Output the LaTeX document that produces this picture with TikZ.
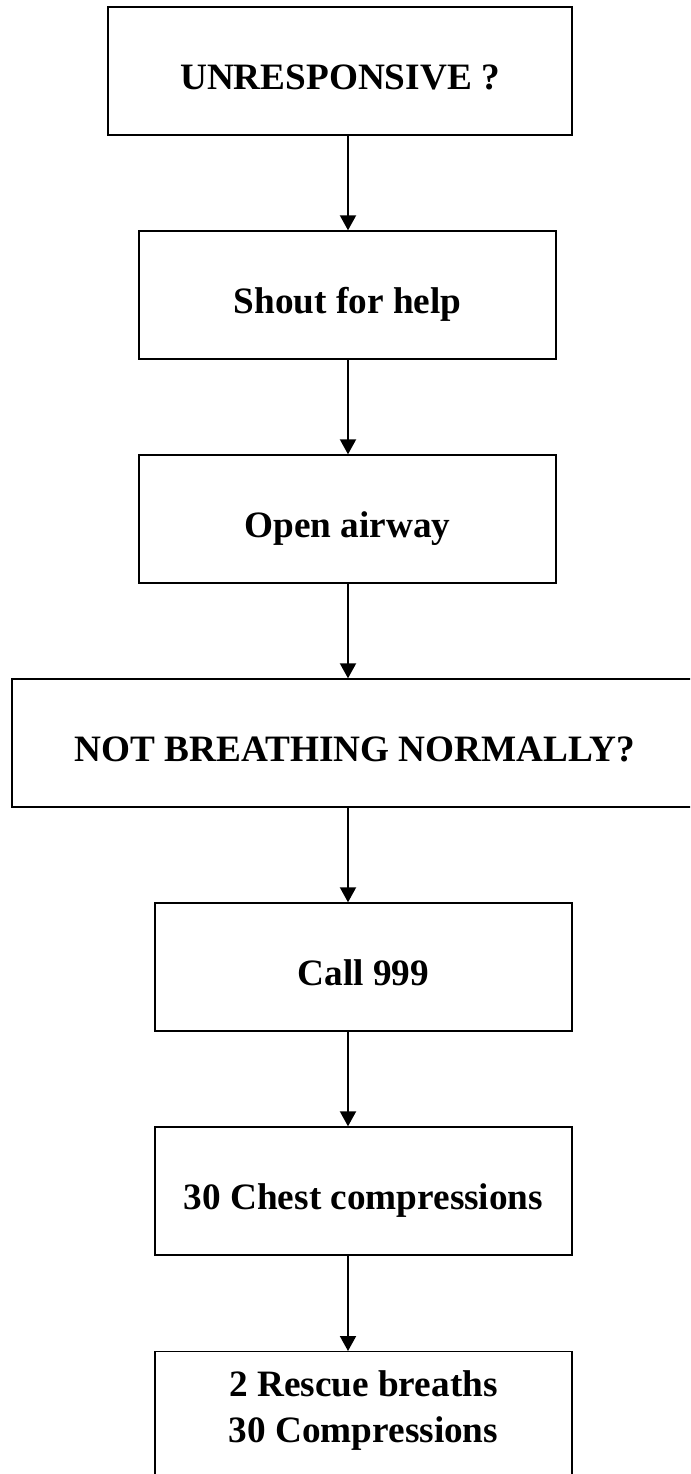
\documentclass[tikz,border=0pt]{standalone}
\usepackage{fontspec}
\setmainfont{Liberation Serif}
\usepackage{tikz}
\usetikzlibrary{positioning, arrows.meta}

\begin{document}
\begin{tikzpicture}[
  x=0.02cm, y=-0.02cm,
  every node/.style={font=\fontsize{21.2}{26.2}\selectfont\bfseries},
  blk/.style={draw, line width=0.8pt, minimum height=2.56cm, inner sep=0pt,
              text height=0.893cm, text depth=0.134cm, align=center},
  nblk/.style={blk, minimum width=8.34cm},
  arr/.style={-{Triangle[width=0.32cm, length=0.3cm]}, line width=1.1pt}
]
\clip (0,0) rectangle (690,1474);
\coordinate (spine) at (348,0);

\node[blk, minimum width=9.28cm] (unresp) at (340,71) {UNRESPONSIVE ?};
\node[nblk] (shout) at (347.5,295) {Shout for help};
\node[nblk] (airway) at (347.5,519) {Open airway};
\node[blk, minimum width=13.72cm] (breath) at (355,743) {NOT BREATHING NORMALLY?};
\node[nblk] (call) at (363.5,967) {Call 999};
\node[nblk] (chest) at (363.5,1191) {30 Chest compressions};
% last box runs off the page
\node[nblk, anchor=north, text width=8.34cm, minimum height=0pt, align=flush center,
      text height=0.9cm, text depth=1.8cm] (rescue) at (363.5,1351)
   {2 Rescue breaths\\30 Compressions};

\draw[arr] (unresp.south -| spine) -- (shout.north -| spine);
\draw[arr] (shout.south -| spine) -- (airway.north -| spine);
\draw[arr] (airway.south -| spine) -- (breath.north -| spine);
\draw[arr] (breath.south -| spine) -- (call.north -| spine);
\draw[arr] (call.south -| spine) -- (chest.north -| spine);
\draw[arr] (chest.south -| spine) -- (rescue.north -| spine);
\end{tikzpicture}
\end{document}
